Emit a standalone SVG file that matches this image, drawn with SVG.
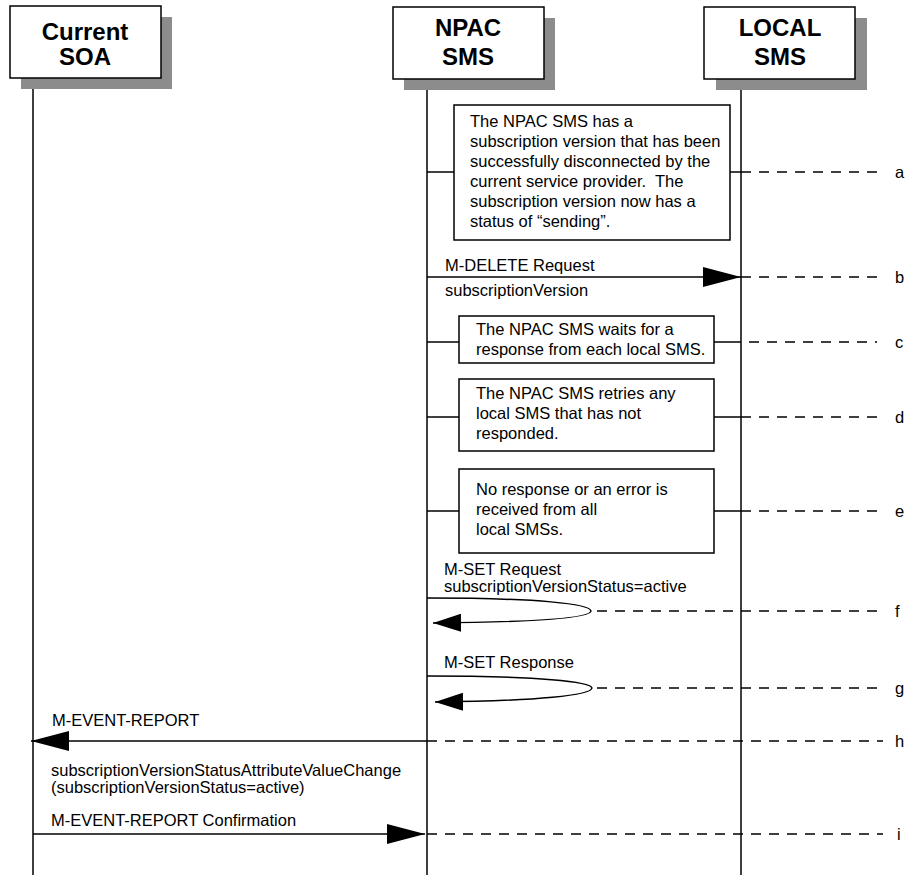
<svg xmlns="http://www.w3.org/2000/svg" width="907" height="875" viewBox="0 0 907 875">
<style>
text{font-family:"Liberation Sans",Arial,sans-serif;fill:#000}
.hdr{font-size:24px;font-weight:bold;text-anchor:middle}
.t{font-size:16.5px}
.box{fill:#fff;stroke:#000;stroke-width:1.5}
.shadow{fill:#8c8c8c}
.life{stroke:#000;stroke-width:1.5;fill:none}
.ln{stroke:#000;stroke-width:1.5;fill:none}
.dash{stroke:#000;stroke-width:1.5;stroke-dasharray:10 8;fill:none}
</style>
<defs>
<marker id="big" markerUnits="userSpaceOnUse" markerWidth="38" markerHeight="20" refX="38" refY="10" orient="auto"><path d="M0,0 L38,10 L0,20 z" fill="#000"/></marker>
<marker id="small" markerUnits="userSpaceOnUse" markerWidth="28" markerHeight="18" refX="28" refY="9" orient="auto"><path d="M0,0 L28,9 L0,18 z" fill="#000"/></marker>
</defs>
<rect width="907" height="875" fill="#fff"/>
<g id="lifelines">
<line class="life" x1="33" y1="78" x2="33" y2="875"/>
<line class="life" x1="427" y1="78" x2="427" y2="875"/>
<line class="life" x1="741" y1="78" x2="741" y2="875"/>
</g>
<g id="soa">
<rect class="shadow" x="21" y="17" width="151" height="72"/>
<rect class="box" x="10" y="6" width="151" height="72"/>
<text class="hdr" x="85" y="40">Current</text>
<text class="hdr" x="85" y="65">SOA</text>
</g>
<g id="npac">
<rect class="shadow" x="404" y="18" width="151" height="72"/>
<rect class="box" x="393" y="7" width="151" height="72"/>
<text class="hdr" x="468" y="36">NPAC</text>
<text class="hdr" x="468" y="65">SMS</text>
</g>
<g id="local">
<rect class="shadow" x="716" y="18" width="151" height="72"/>
<rect class="box" x="704" y="7" width="151" height="72"/>
<text class="hdr" x="780" y="36">LOCAL</text>
<text class="hdr" x="780" y="65">SMS</text>
</g>
<g id="connectors">
<line class="ln" x1="427" y1="172" x2="454" y2="172"/>
<line class="ln" x1="730" y1="172" x2="741" y2="172"/>
<line class="dash" x1="741" y1="172" x2="883" y2="172"/>
<line class="ln" x1="427" y1="277" x2="741" y2="277" marker-end="url(#big)"/>
<line class="dash" x1="741" y1="277" x2="883" y2="277"/>
<line class="ln" x1="427" y1="342" x2="459" y2="342"/>
<line class="ln" x1="714" y1="342" x2="741" y2="342"/>
<line class="dash" x1="749" y1="342" x2="877" y2="342"/>
<line class="ln" x1="427" y1="417" x2="459" y2="417"/>
<line class="ln" x1="714" y1="417" x2="741" y2="417"/>
<line class="dash" x1="741" y1="417" x2="883" y2="417"/>
<line class="ln" x1="427" y1="511" x2="459" y2="511"/>
<line class="ln" x1="714" y1="511" x2="741" y2="511"/>
<line class="dash" x1="741" y1="511" x2="883" y2="511"/>
<path class="ln" d="M427,598 C540,598 590,604 591,611 C590,618 540,622 433,623" marker-end="url(#small)"/>
<line class="dash" x1="597" y1="611" x2="883" y2="611"/>
<path class="ln" d="M427,676 C540,676 591,682 592,688 C591,695 540,701 435,702" marker-end="url(#small)"/>
<line class="dash" x1="597" y1="688" x2="883" y2="688"/>
<line class="ln" x1="427" y1="741" x2="31" y2="741" marker-end="url(#big)"/>
<line class="dash" x1="427" y1="741" x2="883" y2="741"/>
<line class="ln" x1="33" y1="834" x2="425" y2="834" marker-end="url(#big)"/>
<line class="dash" x1="427" y1="834" x2="883" y2="834"/>
</g>
<g id="note-a">
<rect class="box" x="454" y="105" width="276" height="135"/>
<text class="t" x="470" y="127">The NPAC SMS has a</text>
<text class="t" x="470" y="147">subscription version that has been</text>
<text class="t" x="470" y="167">successfully disconnected by the</text>
<text class="t" x="470" y="187" xml:space="preserve">current service provider.  The</text>
<text class="t" x="470" y="207">subscription version now has a</text>
<text class="t" x="470" y="227">status of “sending”.</text>
</g>
<g id="note-c">
<rect class="box" x="459" y="316" width="255" height="47"/>
<text class="t" x="476" y="335">The NPAC SMS waits for a</text>
<text class="t" x="476" y="355">response from each local SMS.</text>
</g>
<g id="note-d">
<rect class="box" x="459" y="379" width="255" height="72"/>
<text class="t" x="476" y="399">The NPAC SMS retries any</text>
<text class="t" x="476" y="419">local SMS that has not</text>
<text class="t" x="476" y="439">responded.</text>
</g>
<g id="note-e">
<rect class="box" x="459" y="469" width="255" height="84"/>
<text class="t" x="476" y="495">No response or an error is</text>
<text class="t" x="476" y="515">received from all</text>
<text class="t" x="476" y="535">local SMSs.</text>
</g>
<g id="labels">
<text class="t" x="445" y="271">M-DELETE Request</text>
<text class="t" x="445" y="296">subscriptionVersion</text>
<text class="t" x="444" y="575">M-SET Request</text>
<text class="t" x="444" y="592">subscriptionVersionStatus=active</text>
<text class="t" x="444" y="668">M-SET Response</text>
<text class="t" x="52" y="726">M-EVENT-REPORT</text>
<text class="t" x="51" y="776">subscriptionVersionStatusAttributeValueChange</text>
<text class="t" x="51" y="793">(subscriptionVersionStatus=active)</text>
<text class="t" x="51" y="826">M-EVENT-REPORT Confirmation</text>
</g>
<g id="steps">
<text class="t" x="895" y="178">a</text>
<text class="t" x="895" y="283">b</text>
<text class="t" x="895" y="348">c</text>
<text class="t" x="895" y="423">d</text>
<text class="t" x="895" y="517">e</text>
<text class="t" x="895" y="617">f</text>
<text class="t" x="895" y="694">g</text>
<text class="t" x="895" y="747">h</text>
<text class="t" x="897" y="840">i</text>
</g>
</svg>
